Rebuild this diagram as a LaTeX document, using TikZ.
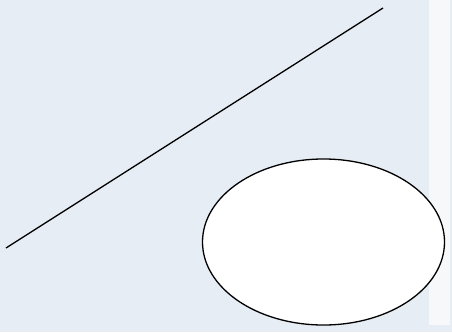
\documentclass[tikz,border=0pt]{standalone}
\usetikzlibrary{shapes.geometric}
\definecolor{bgblue}{HTML}{E7EDF5}
\definecolor{stripwhite}{HTML}{F7F8FA}
\tikzset{
  shapeline/.style={draw=black, line width=1.3pt},
  oval/.style={shapeline, ellipse, fill=white, minimum width=242pt, minimum height=166pt, inner sep=0pt},
}
\begin{document}
\begin{tikzpicture}[x=1pt,y=-1pt]
\fill[bgblue] (0,0) rectangle (452,332);
\useasboundingbox (0,0) rectangle (452,332);
\fill[stripwhite] (429,0) rectangle (450,325);
\coordinate (a) at (6,248);
\coordinate (b) at (383,8);
\draw[shapeline] (a) -- (b);
\node[oval] (e) at (323.5,242) {};
\end{tikzpicture}
\end{document}
